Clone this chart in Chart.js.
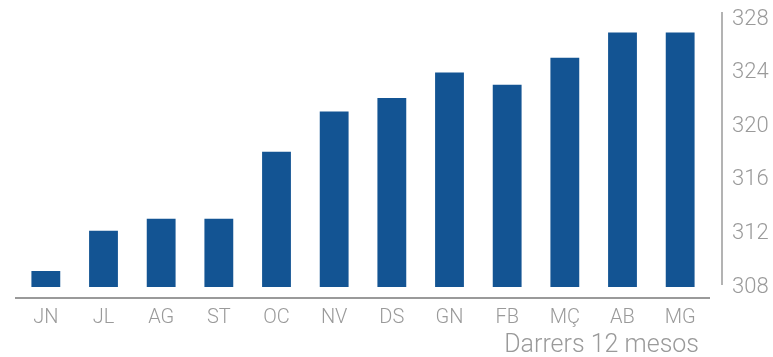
<!DOCTYPE html>
<html>
<head>
<meta charset="utf-8">
<script src="https://cdn.jsdelivr.net/npm/chart.js@4.4.1/dist/chart.umd.min.js"></script>
<style>
  body { margin: 0; background: #fff; }
  #wrap { width: 773px; height: 357px; }
</style>
</head>
<body>
<div id="wrap"><canvas id="barChart" width="773" height="357"></canvas></div>
<script>
// months (Catalan abbreviations)
var months = ["JN", "JL", "AG", "ST", "OC", "NV", "DS", "GN", "FB", "MÇ", "AB", "MG"];
var values = [309.2, 312.2, 313.1, 313.1, 318.1, 321.1, 322.1, 324.0, 323.1, 325.1, 327.0, 327.0];
var yTicks = [308, 312, 316, 320, 324, 328];
var axisTitle = "Darrers 12 mesos";

var grey = "#9a9a9a";
var barBlue = "#135493";

// axis lines sit apart from the bars like in the original, title goes bottom right
var axisExtras = {
    id: 'axisExtras',
    afterDraw: function (chart) {
        var ctx = chart.ctx, a = chart.chartArea;
        ctx.save();
        ctx.strokeStyle = grey;
        ctx.lineWidth = 2;
        ctx.beginPath();
        ctx.moveTo(a.left - 2, a.bottom + 11);
        ctx.lineTo(a.right + 1, a.bottom + 11);
        ctx.stroke();
        ctx.lineWidth = 1.5;
        ctx.beginPath();
        ctx.moveTo(a.right + 13, a.top - 7);
        ctx.lineTo(a.right + 13, a.bottom - 2);
        ctx.stroke();

        ctx.fillStyle = grey;
        ctx.font = "300 25px Roboto";
        ctx.textAlign = "right";
        ctx.textBaseline = "middle";
        ctx.fillText(axisTitle, a.right - 10, a.bottom + 59);
        ctx.restore();
    }
};

var ctx = document.getElementById("barChart");
var barChart = new Chart(ctx, {
    type: 'bar',
    data: {
        labels: months,
        datasets: [{
            data: values,
            backgroundColor: barBlue,
            borderWidth: 0,
            barPercentage: 0.5,
            categoryPercentage: 1.0
        }]
    },
    options: {
        responsive: false,
        animation: false,
        layout: { padding: { top: 19, left: 17, right: 0, bottom: 0 } },
        plugins: {
            legend: { display: false },
            tooltip: { enabled: false }
        },
        scales: {
            x: {
                grid: { display: false },
                border: { display: false },
                afterFit: function (scale) {
                    scale.height = 70;
                },
                ticks: {
                    color: grey,
                    padding: 11,
                    font: { family: "Roboto", weight: 300, size: 20 }
                }
            },
            y: {
                position: 'right',
                min: 308,
                max: 328,
                grid: { display: false },
                border: { display: false },
                afterBuildTicks: function (scale) {
                    scale.ticks = yTicks.map(function (v) { return { value: v }; });
                },
                afterFit: function (scale) {
                    scale.width = 64;
                    scale.paddingTop = 0;
                    scale.paddingBottom = 0;
                },
                ticks: {
                    color: grey,
                    padding: 15,
                    font: { family: "Roboto", weight: 300, size: 22 }
                }
            }
        }
    },
    plugins: [axisExtras]
});
</script>
</body>
</html>
